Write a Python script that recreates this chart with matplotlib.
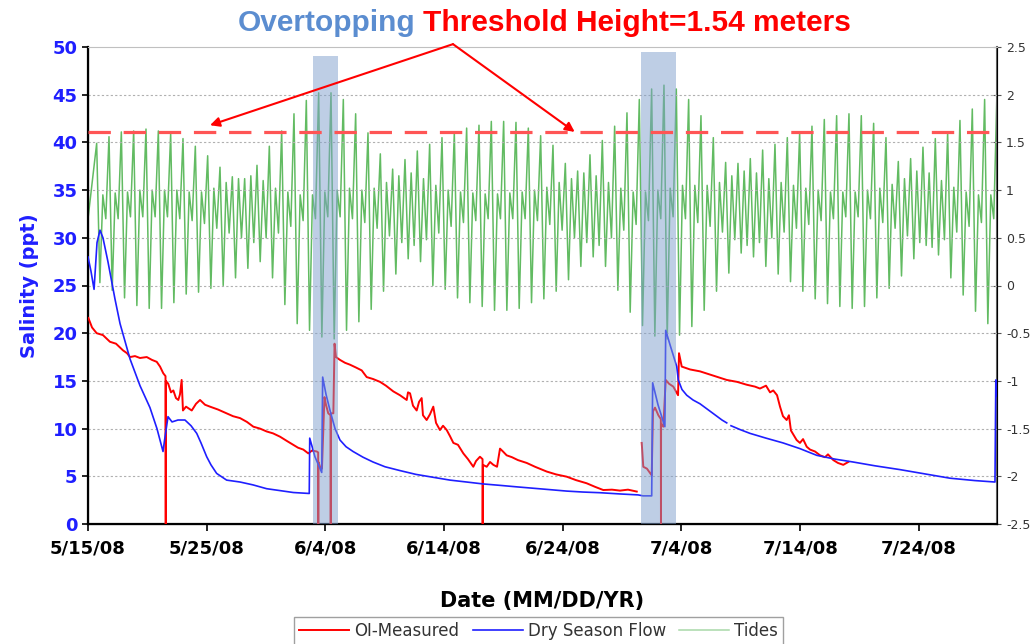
import numpy as np
import pandas as pd
import matplotlib
matplotlib.use('Agg')
import matplotlib.pyplot as plt

# ---- data (days after 5/15/08) ----
start = pd.Timestamp('2008-05-15')
end_day = 76.58

red_day = [0.03, 0.34, 0.73, 1.26, 1.85, 2.36, 2.95, 3.29, 3.54, 3.96, 4.38, 4.95, 5.39, 5.79, 6.07, 6.34,
           6.53, 6.55, 6.56, 6.76, 6.99, 7.19, 7.41, 7.61, 7.75, 7.89, 8.0, 8.26, 8.74, 9.1, 9.44, 9.86,
           10.28, 10.95, 11.68, 12.22, 12.81, 13.39, 13.93, 14.49, 15.05, 15.59, 16.18, 16.76, 17.3, 17.69,
           18.14, 18.56, 18.87, 19.27, 19.39, 19.40, 19.41, 19.55, 19.71, 19.92, 20.05, 20.24, 20.43, 20.45,
           20.47, 20.67, 20.77, 20.89, 21.23, 21.65, 22.07, 22.58, 23.06, 23.48, 24.01, 24.6, 25.1, 25.72,
           26.28, 26.85, 26.96, 27.13, 27.38, 27.69, 27.89, 28.11, 28.22, 28.53, 28.81, 29.09, 29.32, 29.65,
           29.91, 30.22, 30.5, 30.78, 31.17, 31.62, 32.01, 32.46, 32.69, 33.02, 33.24, 33.25, 33.27, 33.59,
           33.87, 34.15, 34.46, 34.71, 34.96, 35.27, 35.72, 36.22, 36.96, 37.66, 38.64, 39.43, 40.33, 41.11,
           42.01, 42.71, 43.41, 44.14, 44.82, 45.49, 46.23, 46.4, 46.65, 46.78, 47.09, 47.49, 47.6, 47.77,
           48.05, 48.26, 48.27, 48.28, 48.47, 48.67, 48.95, 49.31, 49.71, 49.79, 50.02, 50.72, 51.56, 52.57,
           53.81, 54.68, 55.49, 56.19, 56.61, 57.12, 57.46, 57.73, 58.05, 58.3, 58.55, 58.86, 59.05, 59.22,
           59.7, 59.98, 60.24, 60.55, 60.83, 61.25, 61.67, 62.09, 62.34, 62.79, 63.18, 63.63, 64.05]
red_sal = [21.6, 20.6, 20.0, 19.8, 19.1, 18.9, 18.2, 17.9, 17.5, 17.6, 17.4, 17.5, 17.2, 17.0, 16.5, 15.8,
           15.5, 0.0, 15.0, 14.7, 13.8, 14.0, 13.2, 13.0, 13.6, 15.1, 11.9, 12.3, 11.9, 12.6, 13.0, 12.5,
           12.3, 12.0, 11.6, 11.3, 11.1, 10.7, 10.2, 10.0, 9.7, 9.5, 9.15, 8.7, 8.3, 8.0,
           7.8, 7.4, 7.7, 7.6, 7.5, 0.0, 6.5, 6.0, 5.8, 13.3, 12.5, 11.6, 11.4, 0.0,
           11.6, 11.6, 18.9, 17.5, 17.2, 16.9, 16.7, 16.4, 16.1, 15.4, 15.2, 14.9, 14.5, 13.9,
           13.5, 13.0, 13.8, 13.7, 12.4, 11.9, 12.8, 13.2, 11.4, 10.9, 11.5, 12.3, 10.6, 9.85,
           10.3, 9.85, 9.2, 8.5, 8.3, 7.4, 6.8, 6.0, 6.6, 7.05, 6.8, 0.0, 6.2, 6.0,
           6.5, 6.2, 6.0, 7.9, 7.6, 7.2, 7.0, 6.7, 6.4, 6.0, 5.5, 5.2, 4.96, 4.6,
           4.27, 3.9, 3.56, 3.6, 3.5, 3.6, 3.4, np.nan, 8.5, 6.0, 5.8, 5.1, 11.8, 12.2,
           11.4, 11.0, 0.0, 10.5, 10.2, 15.1, 14.7, 14.4, 13.5, 17.9, 16.5, 16.2, 16.0, 15.6,
           15.1, 14.9, 14.6, 14.4, 14.2, 14.5, 13.8, 14.0, 13.5, 12.3, 11.3, 10.9, 11.4, 9.8,
           8.8, 8.5, 8.9, 8.1, 7.8, 7.6, 7.2, 7.0, 7.3, 6.7, 6.4, 6.2, 6.5]

blue_day = [0.0, 0.25, 0.51, 0.76, 1.01, 1.26, 1.68, 2.27, 2.7, 3.54, 4.38, 5.22, 5.81, 6.32, 6.44, 6.74,
            7.08, 7.58, 8.17, 8.68, 9.16, 9.52, 10.0, 10.36, 10.84, 11.68, 12.81, 13.9, 15.05, 16.18, 17.3,
            18.64, 18.68, 19.12, 19.69, 19.77, 20.05, 20.39, 20.81, 21.23, 21.74, 22.33, 23.17, 24.01, 25.02,
            26.28, 27.63, 29.06, 30.5, 31.9, 33.28, 34.71, 36.06, 37.49, 38.92, 40.33, 41.7, 43.13, 44.82,
            46.34, 46.76, 47.49, 47.57, 48.02, 48.6, 48.67, 49.03, 49.6, 49.73, 50.04, 50.44, 50.97, 51.56,
            52.65, 53.41, 53.81, 54.0, 54.17, 54.93, 55.77, 57.12, 58.55, 59.98, 61.39, 62.93, 64.45, 66.3,
            68.41, 70.51, 72.62, 74.73, 76.41, 76.48, 76.58]
blue_sal = [28.0, 26.5, 24.6, 29.5, 30.8, 30.0, 27.5, 23.6, 21.0, 17.3, 14.5, 12.2, 10.0, 7.6, 8.7, 11.25,
            10.7, 10.9, 10.9, 10.3, 9.5, 8.5, 7.05, 6.2, 5.3, 4.6, 4.4, 4.1, 3.7, 3.5, 3.3,
            3.2, 9.0, 7.05, 5.4, 15.4, 13.6, 11.9, 10.0, 8.8, 8.1, 7.6, 7.0, 6.5, 6.0,
            5.6, 5.2, 4.9, 4.6, 4.4, 4.2, 4.05, 3.9, 3.75, 3.6, 3.45, 3.35, 3.28, 3.15,
            3.05, 2.95, 2.95, 14.8, 12.5, 10.2, 20.3, 18.8, 16.5, 15.1, 14.1, 13.5, 13.0, 12.6,
            11.6, 10.9, 10.6, np.nan, 10.3, 9.9, 9.5, 9.0, 8.5, 7.9, 7.2, 6.8, 6.5, 6.1,
            5.7, 5.25, 4.8, 4.55, 4.4, 15.1, 13.4]

# tides (m): higher high, lower low, lower high, higher low for each tidal day
tide_t0 = 0.73
tide_period = 1.039
tide_hh = [1.49, 1.56, 1.61, 1.62, 1.64, 1.62, 1.59, 1.54, 1.46, 1.36, 1.24, 1.14, 1.12, 1.26, 1.46, 1.62,
           1.80, 1.94, 2.02, 2.02, 1.95, 1.80, 1.60, 1.38, 1.22, 1.32, 1.41, 1.48, 1.55, 1.60, 1.65, 1.68,
           1.72, 1.72, 1.71, 1.65, 1.57, 1.47, 1.28, 1.20, 1.37, 1.52, 1.67, 1.81, 1.95, 2.06, 2.10, 2.06,
           1.95, 1.78, 1.55, 1.29, 1.28, 1.33, 1.42, 1.48, 1.55, 1.60, 1.67, 1.74, 1.78, 1.80, 1.78, 1.70,
           1.55, 1.30, 1.33, 1.45, 1.54, 1.60, 1.73, 1.85, 1.95, 2.02]
tide_ll = [0.03, -0.05, -0.13, -0.21, -0.24, -0.24, -0.18, -0.09, -0.07, -0.03, 0.0, 0.08, 0.18, 0.25, 0.08, -0.2,
           -0.4, -0.47, -0.54, -0.56, -0.47, -0.38, -0.25, -0.06, 0.12, 0.28, 0.25, 0.0, -0.04, -0.13, -0.18, -0.22,
           -0.26, -0.26, -0.24, -0.18, -0.14, -0.06, 0.06, 0.2, 0.3, 0.2, -0.05, -0.28, -0.42, -0.53, -0.56, -0.52,
           -0.43, -0.26, -0.06, 0.13, 0.34, 0.3, 0.2, 0.12, 0.04, -0.06, -0.14, -0.19, -0.22, -0.24, -0.22, -0.13,
           -0.03, 0.1, 0.28, 0.42, 0.32, 0.08, -0.1, -0.27, -0.4, -0.45]
tide_lh = [0.95, 0.97, 0.98, 1.0, 1.0, 1.0, 1.0, 0.98, 0.98, 1.02, 1.08, 1.12, 1.15, 1.1, 1.02, 0.98,
           0.95, 0.95, 0.98, 1.0, 1.02, 1.0, 1.02, 1.08, 1.15, 1.18, 1.12, 1.05, 1.0, 0.98, 0.97, 0.96,
           0.96, 0.97, 0.98, 1.0, 1.03, 1.08, 1.12, 1.18, 1.15, 1.08, 1.02, 0.98, 0.98, 1.0, 1.02, 1.05,
           1.05, 1.05, 1.08, 1.15, 1.2, 1.18, 1.12, 1.08, 1.05, 1.02, 1.0, 0.98, 0.98, 0.98, 1.0, 1.02,
           1.06, 1.12, 1.2, 1.18, 1.1, 1.03, 0.98, 0.95, 0.95, 0.95]
tide_hl = [0.7, 0.7, 0.72, 0.72, 0.72, 0.72, 0.7, 0.68, 0.65, 0.6, 0.55, 0.5, 0.45, 0.5, 0.55, 0.62,
           0.68, 0.7, 0.72, 0.72, 0.7, 0.66, 0.6, 0.52, 0.45, 0.42, 0.48, 0.55, 0.62, 0.66, 0.68, 0.7,
           0.7, 0.7, 0.7, 0.68, 0.64, 0.58, 0.5, 0.45, 0.42, 0.5, 0.58, 0.64, 0.68, 0.7, 0.72, 0.7,
           0.66, 0.62, 0.56, 0.48, 0.42, 0.45, 0.5, 0.56, 0.6, 0.64, 0.68, 0.7, 0.72, 0.72, 0.7, 0.66,
           0.6, 0.52, 0.45, 0.4, 0.48, 0.56, 0.62, 0.66, 0.7, 0.7]
tide_first = 0.7

# overtopping periods (day start, day end, top in ppt)
band_start = [18.96, 46.59]
band_end = [21.06, 49.54]
band_top = [49.06, 49.5]

threshold_sal = 41.1
arrow_apex = (30.75, 50.3)
arrow_tips = [(10.28, 41.8), (41.0, 41.1)]

xtick_labels = ['5/15/08', '5/25/08', '6/4/08', '6/14/08', '6/24/08', '7/4/08', '7/14/08', '7/24/08']


def to_dates(days):
    return start + pd.to_timedelta(np.asarray(days, dtype=float), unit='D')


# build tide series from the extremes
t_list = [0.0]
v_list = [tide_first]
for k in range(len(tide_hh)):
    tk = tide_t0 + k * tide_period
    t_list += [tk, tk + 0.27, tk + 0.52, tk + 0.77]
    v_list += [tide_hh[k], tide_ll[k], tide_lh[k], tide_hl[k]]

fig = plt.figure(figsize=(10.34, 6.44), dpi=100)
ax = fig.add_axes([88/1034, 1-524/644, (997-88)/1034, (524-47)/644])
ax2 = ax.twinx()
ax.set_zorder(ax2.get_zorder() + 1)
ax.patch.set_visible(False)

green = '#62bb62'
l3, = ax2.plot(to_dates(t_list), v_list, color=green, lw=1.1, label='Tides')
ax2.set_ylim(-2.5, 2.5)
ax2.set_yticks(np.arange(-2.5, 2.51, 0.5))
ax2.set_yticklabels(['{:g}'.format(v) for v in np.arange(-2.5, 2.51, 0.5)], fontsize=9, color='#333333')
ax2.tick_params(axis='y', direction='inout', length=6, color='#555555')

l1, = ax.plot(to_dates(red_day), red_sal, color='#ff0000', lw=1.4, label='OI-Measured', zorder=3)
l2, = ax.plot(to_dates(blue_day), blue_sal, color='#1f1fff', lw=1.2, label='Dry Season Flow', zorder=3)

for s, e, top in zip(band_start, band_end, band_top):
    ax.fill_between(to_dates([s, e]), 0, top, color='#7f9fcc', alpha=0.5, lw=0, zorder=4)

ax.axhline(threshold_sal, color='#ff5555', lw=2.3, dashes=(7, 4), zorder=5)

apex = (to_dates([arrow_apex[0]])[0], arrow_apex[1])
for tx, ty in arrow_tips:
    ax.annotate('', xy=(to_dates([tx])[0], ty), xytext=apex, annotation_clip=False,
                arrowprops=dict(arrowstyle='-|>', color='red', lw=1.5, mutation_scale=14,
                                shrinkA=0, shrinkB=0), zorder=6)

ax.set_ylim(0, 50)
ax.set_yticks(range(0, 51, 5))
ax.set_xlim(to_dates([0])[0], to_dates([end_day])[0])
ax.set_xticks(to_dates(np.arange(0, 71, 10)))
ax.set_xticklabels(xtick_labels)
for v in range(5, 50, 5):
    ax.axhline(v, color='#b0b0b0', lw=0.8, ls=(0, (2, 2)), zorder=0)

for lab in ax.get_yticklabels():
    lab.set_color('#1f1fff')
    lab.set_fontweight('bold')
    lab.set_fontsize(13)
for lab in ax.get_xticklabels():
    lab.set_fontweight('bold')
    lab.set_fontsize(13)
ax.tick_params(axis='x', direction='out', length=5, width=1.2, pad=6)
ax.tick_params(axis='y', direction='out', length=4, width=1.2)

ax.spines['left'].set_linewidth(1.6)
ax.spines['bottom'].set_linewidth(1.6)
ax.spines['top'].set_color('#c0c0c0')
ax2.spines['right'].set_color('#666666')
ax2.spines['right'].set_linewidth(1.5)
ax2.spines['top'].set_visible(False)

ax.set_ylabel('Salinity (ppt)', color='#1f1fff', fontsize=14, fontweight='bold', labelpad=10)
ax.set_xlabel('Date (MM/DD/YR)', fontsize=15, fontweight='bold', labelpad=24)

tfont = ['Liberation Sans Narrow', 'Liberation Sans', 'DejaVu Sans']
fig.text(0.402, 0.965, 'Overtopping', color='#5b8dd0', fontsize=21.5, fontweight='bold',
         family=tfont, ha='right', va='center')
fig.text(0.409, 0.965, 'Threshold Height=1.54 meters', color='#ff0000', fontsize=21.5, fontweight='bold',
         family=tfont, ha='left', va='center')

leg = fig.legend(handles=[l1, l2, l3], loc='upper center', bbox_to_anchor=(0.521, 1-617/644), ncol=3,
                 fontsize=12, frameon=True, fancybox=False, edgecolor='#888888', borderaxespad=0,
                 handlelength=3.0, handletextpad=0.3, columnspacing=0.8, borderpad=0.3)
for t in leg.get_texts():
    t.set_color('#333333')
leg.get_lines()[2].set_color('#a8d8a8')

fig.savefig('out.png', dpi=100)
